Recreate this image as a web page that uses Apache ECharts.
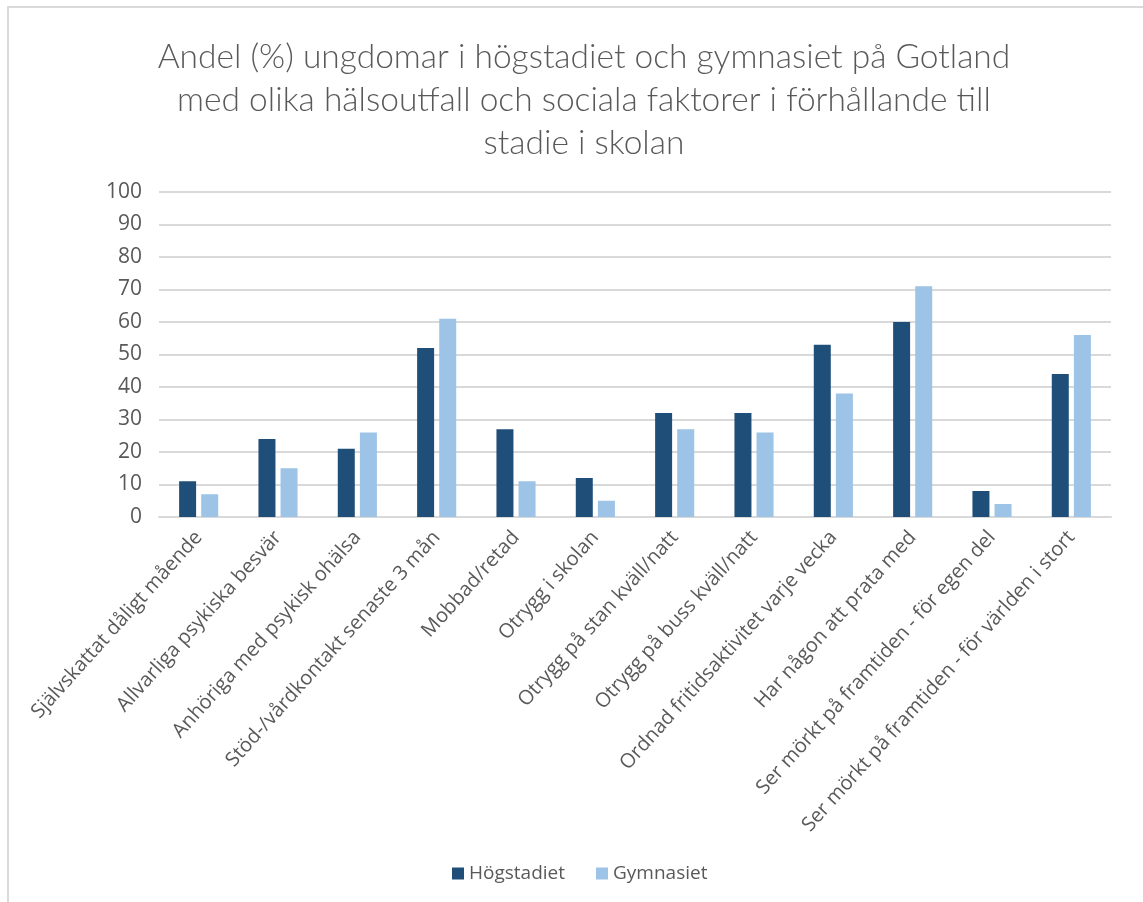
<!DOCTYPE html>
<html style="height: 100%">

<head>
  <meta charset="utf-8">
  <title>Andel ungdomar på Gotland</title>
</head>

<body style="height: 100%; margin: 0; background: #fff">
  <div id="container" style="width: 1143px; height: 902px"></div>
  <script type="text/javascript" src="https://cdn.jsdelivr.net/npm/echarts@6/dist/echarts.min.js"></script>
  <script type="text/javascript">
    var categories = [
      'Självskattat dåligt mående',
      'Allvarliga psykiska besvär',
      'Anhöriga med psykisk ohälsa',
      'Stöd-/vårdkontakt senaste 3 mån',
      'Mobbad/retad',
      'Otrygg i skolan',
      'Otrygg på stan kväll/natt',
      'Otrygg på buss kväll/natt',
      'Ordnad fritidsaktivitet varje vecka',
      'Har någon att prata med',
      'Ser mörkt på framtiden - för egen del',
      'Ser mörkt på framtiden - för världen i stort'
    ];
    var hogstadiet = [11, 24, 21, 52, 27, 12, 32, 32, 53, 60, 8, 44];
    var gymnasiet = [7, 15, 26, 61, 11, 5, 27, 26, 38, 71, 4, 56];

    var dom = document.getElementById("container");
    var myChart = echarts.init(dom);
    var textColor = '#595959';

    var option = {
      backgroundColor: '#fff',
      animation: false,
      title: {
        text: 'Andel (%) ungdomar i högstadiet och gymnasiet på Gotland\nmed olika hälsoutfall och sociala faktorer i förhållande till\nstadie i skolan',
        left: 579,
        top: 31,
        textAlign: 'center',
        textStyle: {
          fontFamily: 'Lato',
          fontWeight: 300,
          fontSize: 33.5,
          lineHeight: 43,
          color: textColor
        }
      },
      graphic: [{
        type: 'rect',
        shape: { x: 8, y: 7, width: 2000, height: 2000 },
        style: { fill: 'none', stroke: '#d9d9d9', lineWidth: 2 },
        silent: true
      }],
      legend: {
        bottom: 14,
        left: 447,
        itemWidth: 12,
        itemHeight: 12,
        itemGap: 31,
        icon: 'rect',
        textStyle: {
          fontFamily: 'Open Sans',
          fontSize: 19,
          color: textColor
        },
        data: ['Högstadiet', 'Gymnasiet']
      },
      grid: {
        left: 159,
        right: 32,
        top: 192,
        bottom: 385
      },
      xAxis: {
        type: 'category',
        data: categories,
        axisTick: { show: false },
        axisLine: { lineStyle: { color: '#d9d9d9', width: 2 } },
        axisLabel: {
          interval: 0,
          rotate: 48,
          margin: 17,
          fontFamily: 'Open Sans',
          fontSize: 20,
          color: textColor
        }
      },
      yAxis: {
        type: 'value',
        min: 0,
        max: 100,
        interval: 10,
        axisLine: { show: false },
        axisTick: { show: false },
        axisLabel: {
          margin: 17,
          fontFamily: 'Open Sans',
          fontSize: 21,
          color: textColor
        },
        splitLine: { lineStyle: { color: '#d9d9d9', width: 2 } }
      },
      series: [{
        name: 'Högstadiet',
        type: 'bar',
        data: hogstadiet,
        barWidth: 17,
        barGap: '30%',
        itemStyle: { color: '#1f4e79' }
      }, {
        name: 'Gymnasiet',
        type: 'bar',
        data: gymnasiet,
        barWidth: 17,
        itemStyle: { color: '#9dc3e6' }
      }]
    };
    myChart.setOption(option, true);
  </script>
</body>

</html>
